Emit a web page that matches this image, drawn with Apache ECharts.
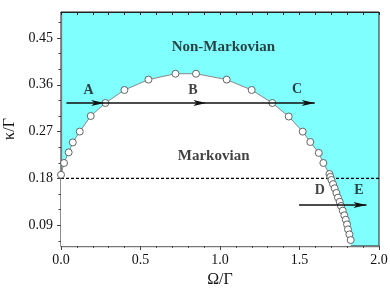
<!DOCTYPE html>
<html><head><meta charset="utf-8">
<script src="https://cdn.jsdelivr.net/npm/echarts@6/dist/echarts.min.js"></script>
<style>html,body{margin:0;padding:0;background:#fff}#c{width:390px;height:293px}</style>
</head><body><div id="c"></div>
<script>
// Boundary curve (Omega/Gamma, kappa/Gamma)
const curveX = [0.0, 0.019, 0.048, 0.074, 0.118, 0.187, 0.279, 0.399, 0.55, 0.72, 0.849, 1.042, 1.199, 1.329, 1.432, 1.52, 1.568, 1.621, 1.650, 1.688, 1.694, 1.701, 1.711, 1.721, 1.732, 1.742, 1.753, 1.761, 1.772, 1.782, 1.791, 1.799, 1.805, 1.814, 1.822];
const curveY = [0.187, 0.2096, 0.230, 0.2492, 0.270, 0.300, 0.325, 0.350, 0.370, 0.3813, 0.3813, 0.370, 0.350, 0.325, 0.299, 0.270, 0.250, 0.229, 0.2096, 0.1885, 0.183, 0.177, 0.169, 0.161, 0.152, 0.143, 0.135, 0.127, 0.118, 0.109, 0.1006, 0.0915, 0.082, 0.0723, 0.0615];
// Dashed threshold
const thresholdY = 0.18;
// Arrow shafts [x0, y, x1]
const arrowLines = [
  [0.034, 0.325, 1.596],
  [1.497, 0.129, 1.921]
];
// Arrowhead tip positions
const headX = [0.272, 0.914, 1.596, 1.921];
const headY = [0.325, 0.325, 0.325, 0.129];
// Point labels
const labelNames = ['A', 'B', 'C', 'D', 'E'];
const labelX = [0.174, 0.83, 1.484, 1.627, 1.874];
const labelY = [0.350, 0.350, 0.352, 0.156, 0.156];
// Region labels
const regionNames = ['Non-Markovian', 'Markovian'];
const regionX = [1.021, 0.96];
const regionY = [0.432, 0.2237];
// Axis ticks
const yLabelVals = [0.09, 0.18, 0.27, 0.36, 0.45];
const yMinorVals = [0.06, 0.12, 0.15, 0.21, 0.24, 0.30, 0.33, 0.39, 0.42, 0.48];
const xMin = 0, xMax = 2.0, xStep = 0.5;
const yMin = 0.05, yMax = 0.5;

const serif = '"Liberation Serif","Times New Roman",serif';
const chart = echarts.init(document.getElementById('c'), null, {renderer: 'canvas'});
const curve = curveX.map((x, i) => [x, curveY[i]]);
const labels = labelNames.map((n, i) => [labelX[i], labelY[i], n]);
const regions = regionNames.map((n, i) => [regionX[i], regionY[i], n]);
const heads = headX.map((x, i) => [x, headY[i]]);

chart.setOption({
  animation: false,
  grid: {left: 61, right: 11, top: 12, bottom: 47, show: true, backgroundColor: '#80ffff', borderColor: '#222', borderWidth: 1, outerBoundsMode: 'none', containLabel: false},
  xAxis: [{
    type: 'value', min: xMin, max: xMax, interval: xStep, position: 'bottom',
    name: 'Ω/Γ', nameLocation: 'middle', nameGap: 24,
    nameTextStyle: {fontFamily: serif, fontSize: 16, color: '#111'},
    axisLine: {show: true, lineStyle: {color: '#777', width: 1.3}},
    axisTick: {show: true, inside: false, length: 4, lineStyle: {color: '#444'}},
    minorTick: {show: true, splitNumber: 5, length: 2, lineStyle: {color: '#444'}},
    axisLabel: {fontFamily: serif, fontSize: 14, color: '#111', margin: 7, formatter: v => v.toFixed(1)},
    splitLine: {show: false}
  }, {
    type: 'value', min: xMin, max: xMax, interval: xStep, position: 'top',
    axisLine: {show: true, lineStyle: {color: '#222', width: 1}},
    axisTick: {show: true, inside: true, length: 3, lineStyle: {color: '#222'}},
    minorTick: {show: true, splitNumber: 5, length: 3, lineStyle: {color: '#222'}},
    axisLabel: {show: false}, splitLine: {show: false}
  }],
  yAxis: [{
    type: 'value', min: yMin, max: yMax, position: 'left',
    name: 'κ/Γ', nameLocation: 'middle', nameGap: 43, nameRotate: 90,
    nameTextStyle: {fontFamily: serif, fontSize: 16, color: '#111'},
    axisLine: {show: true, lineStyle: {color: '#777', width: 1.3}},
    axisTick: {show: true, inside: false, length: 4, customValues: yLabelVals, lineStyle: {color: '#444'}},
    axisLabel: {fontFamily: serif, fontSize: 14, color: '#111', margin: 8, customValues: yLabelVals, formatter: v => v.toFixed(2)},
    splitLine: {show: false}
  }, {
    type: 'value', min: yMin, max: yMax, position: 'left',
    axisLine: {show: false},
    axisTick: {show: true, inside: false, length: 2.5, customValues: yMinorVals, lineStyle: {color: '#444'}},
    axisLabel: {show: false, customValues: yMinorVals},
    splitLine: {show: false}
  }],
  series: [{
    type: 'line', data: curve, clip: false, z: 2, symbol: 'none',
    lineStyle: {width: 0},
    areaStyle: {color: '#fff', opacity: 1, origin: 'start'}
  }, {
    type: 'line', data: [[xMin, thresholdY], [xMax, thresholdY]], symbol: 'none', z: 3,
    lineStyle: {color: '#000', width: 1.2, type: [3, 2]}
  }, {
    type: 'line', data: curve, clip: false, z: 4,
    symbol: 'circle', symbolSize: 7,
    itemStyle: {color: '#fff', borderColor: '#555', borderWidth: 0.9},
    lineStyle: {color: '#888', width: 1}
  }, {
    type: 'lines', coordinateSystem: 'cartesian2d', z: 5,
    symbol: ['none', 'none'],
    lineStyle: {color: '#111', width: 1.6, opacity: 1},
    data: arrowLines.map(s => ({coords: [[s[0], s[1]], [s[2], s[1]]]}))
  }, {
    type: 'scatter', data: heads, z: 6, clip: false,
    symbol: 'path://M0,0 L12,3 L0,6 L3,3 Z', symbolSize: [13, 6], symbolOffset: [-6.5, 0],
    itemStyle: {color: '#111', opacity: 1}
  }, {
    type: 'scatter', data: labels, symbolSize: 0, z: 7,
    label: {show: true, position: 'inside', formatter: p => p.data[2], fontFamily: serif, fontWeight: 'bold', fontSize: 14, color: '#111'}
  }, {
    type: 'scatter', data: regions, symbolSize: 0, z: 7,
    label: {show: true, position: 'inside', formatter: p => p.data[2], fontFamily: serif, fontWeight: 'bold', fontSize: 15, color: '#111'}
  }]
});
</script></body></html>
